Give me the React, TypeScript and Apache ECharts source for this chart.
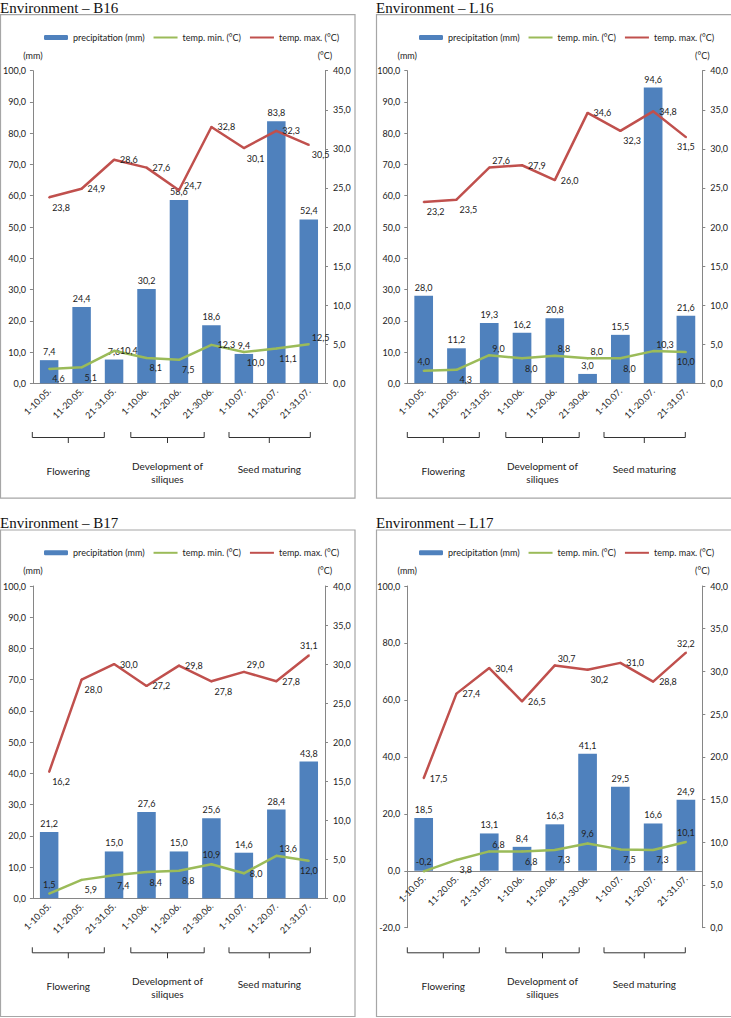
import React, { useEffect, useRef } from "react";
import * as echarts from "echarts";

const categories = ["1-10.05.", "11-20.05.", "21-31.05.", "1-10.06.", "11-20.06.", "21-30.06.", "1-10.07.", "11-20.07.", "21-31.07."];
const seriesNames = ["precipitation (mm)", "temp. min. (°C)", "temp. max. (°C)"];
const stageNames = ["Flowering", "Development of\nsiliques", "Seed maturing"];
const panelTitles = ["Environment – B16", "Environment – L16", "Environment – B17", "Environment – L17"];

const b16Precip = [7.4, 24.4, 7.6, 30.2, 58.6, 18.6, 9.4, 83.8, 52.4];
const b16Min = [4.6, 5.1, 10.4, 8.1, 7.5, 12.3, 10.0, 11.1, 12.5];
const b16Max = [23.8, 24.9, 28.6, 27.6, 24.7, 32.8, 30.1, 32.3, 30.5];

const l16Precip = [28.0, 11.2, 19.3, 16.2, 20.8, 3.0, 15.5, 94.6, 21.6];
const l16Min = [4.0, 4.3, 9.0, 8.0, 8.8, 8.0, 8.0, 10.3, 10.0];
const l16Max = [23.2, 23.5, 27.6, 27.9, 26.0, 34.6, 32.3, 34.8, 31.5];

const b17Precip = [21.2, null, 15.0, 27.6, 15.0, 25.6, 14.6, 28.4, 43.8];
const b17Min = [1.5, 5.9, 7.4, 8.4, 8.8, 10.9, 8.0, 13.6, 12.0];
const b17Max = [16.2, 28.0, 30.0, 27.2, 29.8, 27.8, 29.0, 27.8, 31.1];

const l17Precip = [18.5, null, 13.1, 8.4, 16.3, 41.1, 29.5, 16.6, 24.9];
const l17Min = [-0.2, 3.8, 6.8, 6.8, 7.3, 9.6, 7.5, 7.3, 10.1];
const l17Max = [17.5, 27.4, 30.4, 26.5, 30.7, 30.2, 31.0, 28.8, 32.2];

// label placement codes (style only)
const b16MaxLbl = ["br", "r", "r", "r", "ru", "r", "br", "r", "br"];
const b16MinLbl = ["br", "br", "r", "br", "br", "r", "br", "br", "tr"];
const l16MaxLbl = ["br", "br", "tr", "r", "r", "r", "br", "r", "b"];
const l16MinLbl = ["t", "br", "tr", "br", "tr", "tr", "br", "tr", "b"];
const b17MaxLbl = ["br", "br", "r", "r", "r", "br", "tr", "r", "t"];
const b17MinLbl = ["t", "br", "br", "br", "br", "t", "r", "tr", "b"];
const l17MaxLbl = ["r", "r", "r", "r", "tr", "br", "r", "r", "t"];
const l17MinLbl = ["t", "br", "tr", "br", "br", "t", "br", "br", "t"];

const FONT = "Lato, 'Open Sans', sans-serif";
const TXT = "#222";
const AXIS = "#868686";
const BLUE = "#4F81BD";
const GREEN = "#9BBB59";
const RED = "#C0504D";

const LBL: Record<string, any> = {
  r: { position: "right", distance: 5 },
  ru: { position: "right", distance: 4, offset: [0, -5] },
  br: { position: "right", distance: 0, offset: [2, 10] },
  tr: { position: "right", distance: 2, offset: [0, -7] },
  t: { position: "top", distance: 4 },
  b: { position: "bottom", distance: 4 },
};

const fmt = (v: any) => (v === null || v === undefined || v === "-" ? "" : Number(v).toFixed(1).replace(".", ","));

const panels = [
  { ox: 0, oy: 0, left: 32.3, right: 325, top: 70.7, bottom: 383.3, lmin: 0, lint: 10, precip: b16Precip, min: b16Min, max: b16Max, minLbl: b16MinLbl, maxLbl: b16MaxLbl },
  { ox: 375, oy: 0, left: 407.3, right: 702.3, top: 70.7, bottom: 383.3, lmin: 0, lint: 10, precip: l16Precip, min: l16Min, max: l16Max, minLbl: l16MinLbl, maxLbl: l16MaxLbl },
  { ox: 0, oy: 515.3, left: 32.3, right: 325, top: 586, bottom: 898.3, lmin: 0, lint: 10, precip: b17Precip, min: b17Min, max: b17Max, minLbl: b17MinLbl, maxLbl: b17MaxLbl },
  { ox: 375, oy: 515.3, left: 407.3, right: 702.3, top: 586, bottom: 927.7, lmin: -20, lint: 20, precip: l17Precip, min: l17Min, max: l17Max, minLbl: l17MinLbl, maxLbl: l17MaxLbl },
];

const brackets = [
  [32.3, 104.3, 68.3],
  [130.8, 204.2, 167.5],
  [229, 310.3, 269.3],
];

function buildOption() {
  const grid: any[] = [];
  const xAxis: any[] = [];
  const yAxis: any[] = [];
  const series: any[] = [];
  const legend: any[] = [];
  const graphic: any[] = [];

  panels.forEach((p, i) => {
    const h = p.bottom - p.top;
    grid.push({ left: p.left, top: p.top, width: p.right - p.left, height: h, containLabel: false });
    // place the category axis at the value 0 of the left axis
    const zeroOffset = -(h * (0 - p.lmin)) / (100 - p.lmin);
    xAxis.push({
      type: "category",
      gridIndex: i,
      data: categories,
      position: "bottom",
      offset: zeroOffset,
      axisLine: { show: true, onZero: false, lineStyle: { color: AXIS, width: 1 } },
      axisTick: { show: false },
      splitLine: { show: false },
      axisLabel: { rotate: 45, fontSize: 9, color: TXT, margin: 6, interval: 0, fontFamily: FONT },
    });
    const common = {
      type: "value",
      gridIndex: i,
      nameLocation: "end",
      nameGap: 11,
      nameTextStyle: { fontSize: 9, color: TXT, fontFamily: FONT },
      axisLine: { show: true, lineStyle: { color: AXIS, width: 1 } },
      axisTick: { show: true, length: 3, lineStyle: { color: AXIS } },
      splitLine: { show: false },
    };
    yAxis.push({
      ...common,
      position: "left",
      min: p.lmin,
      max: 100,
      interval: p.lint,
      name: "(mm)",
      axisLabel: { formatter: fmt, fontSize: 9, color: TXT, margin: 7, fontFamily: FONT },
    });
    yAxis.push({
      ...common,
      position: "right",
      min: 0,
      max: 40,
      interval: 5,
      name: "(°C)",
      axisLabel: { formatter: fmt, fontSize: 9, color: TXT, margin: 8, fontFamily: FONT },
    });
    const lblStyle = { show: true, fontSize: 9, color: TXT, fontFamily: FONT, formatter: (d: any) => fmt(d.value) };
    series.push({
      type: "bar",
      name: seriesNames[0],
      xAxisIndex: i,
      yAxisIndex: 2 * i,
      data: p.precip,
      barWidth: "57%",
      itemStyle: { color: BLUE },
      label: { ...lblStyle, position: "top", distance: 4 },
      z: 2,
    });
    series.push({
      type: "line",
      name: seriesNames[1],
      xAxisIndex: i,
      yAxisIndex: 2 * i,
      data: p.min.map((v, j) => ({ value: v, label: LBL[p.minLbl[j]] })),
      symbol: "circle",
      symbolSize: 2,
      showSymbol: true,
      lineStyle: { color: GREEN, width: 2.5 },
      itemStyle: { color: GREEN },
      label: lblStyle,
      z: 3,
    });
    series.push({
      type: "line",
      name: seriesNames[2],
      xAxisIndex: i,
      yAxisIndex: 2 * i + 1,
      data: p.max.map((v, j) => ({ value: v, label: LBL[p.maxLbl[j]] })),
      symbol: "circle",
      symbolSize: 2,
      showSymbol: true,
      lineStyle: { color: RED, width: 2.5 },
      itemStyle: { color: RED },
      label: lblStyle,
      z: 3,
    });
    legend.push({
      left: 39 + p.ox,
      top: 28 + p.oy,
      itemWidth: 24,
      itemHeight: 5,
      itemGap: 8,
      selectedMode: false,
      textStyle: { fontSize: 9, color: TXT, fontFamily: FONT },
      data: [
        { name: seriesNames[0] },
        { name: seriesNames[1], itemStyle: { opacity: 0 } },
        { name: seriesNames[2], itemStyle: { opacity: 0 } },
      ],
    });

    // frame and title
    graphic.push({
      type: "rect",
      shape: { x: p.ox + (i % 2 === 0 ? 0.5 : 1.5), y: p.oy + 14.7, width: i % 2 === 0 ? 354.5 : 360, height: i < 2 ? 483.5 : 486.5 },
      style: { fill: "none", stroke: "#A6A6A6", lineWidth: 1.2 },
      z: -10,
    });
    graphic.push({
      type: "text",
      x: p.ox + (i % 2 === 0 ? 0 : 1),
      y: p.oy + 8,
      style: { text: panelTitles[i], fontSize: 15, fontFamily: "'Liberation Serif', 'Times New Roman', serif", fill: "#111", align: "left", verticalAlign: "middle" },
    });
    // brackets
    brackets.forEach((b, k) => {
      const x1 = p.ox + b[0];
      const x2 = p.ox + b[1];
      const xc = p.ox + b[2];
      const yt = p.oy + 432;
      const yl = p.oy + 437.5;
      const yb = p.oy + 443;
      graphic.push({
        type: "polyline",
        shape: { points: [[x1, yt], [x1, yl], [x2, yl], [x2, yt]] },
        style: { stroke: "#333", lineWidth: 1, fill: "none" },
      });
      graphic.push({
        type: "line",
        shape: { x1: xc, y1: yl, x2: xc, y2: yb },
        style: { stroke: "#333", lineWidth: 1 },
      });
      graphic.push({
        type: "text",
        x: xc,
        y: p.oy + (k === 1 ? 472 : k === 0 ? 470.5 : 469),
        style: { text: stageNames[k], fontSize: 10, lineHeight: 13, fontFamily: FONT, fill: TXT, align: "center", verticalAlign: "middle" },
      });
    });
  });

  return {
    animation: false,
    backgroundColor: "#fff",
    grid,
    xAxis,
    yAxis,
    series,
    legend,
    graphic,
  };
}

export default function App() {
  const ref = useRef<HTMLDivElement>(null);
  useEffect(() => {
    if (!ref.current) return;
    const chart = echarts.init(ref.current, undefined, { renderer: "svg" });
    chart.setOption(buildOption() as any);
    return () => chart.dispose();
  }, []);
  return <div ref={ref} style={{ position: "absolute", left: 0, top: 0, width: 731, height: 1018 }} />;
}
